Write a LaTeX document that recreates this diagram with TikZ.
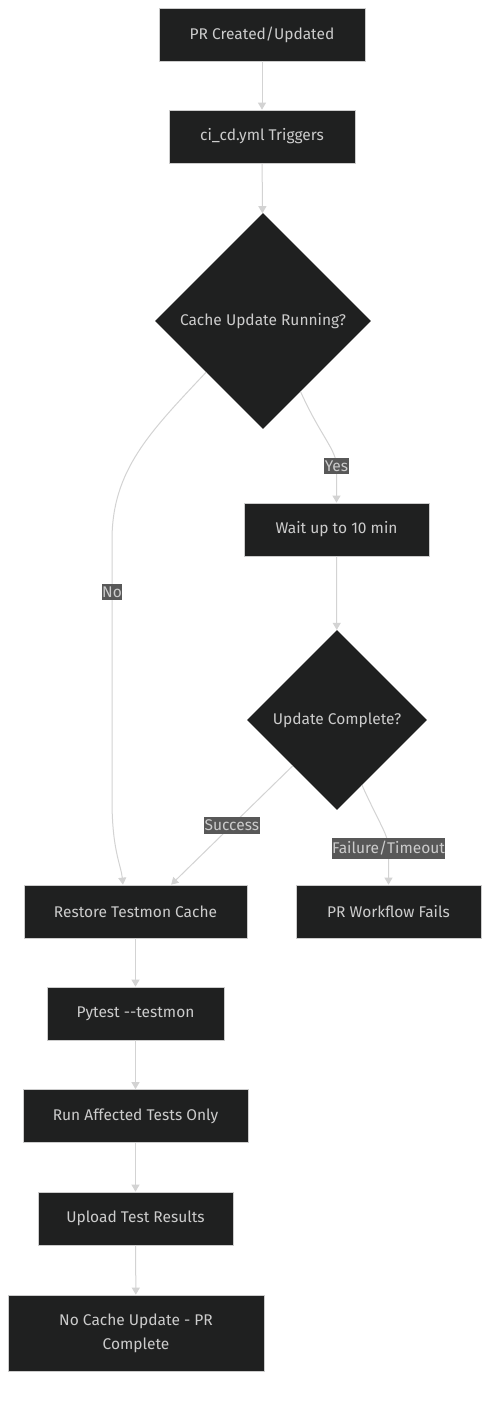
\documentclass[tikz,border=0pt]{standalone}
\usepackage{fontspec}
\setmainfont{Fira Sans}
\usetikzlibrary{shapes.geometric,arrows.meta}
\definecolor{nenkhung}{HTML}{1F2020}
\definecolor{vienkhung}{HTML}{CCCCCC}
\definecolor{chukhung}{HTML}{CCCCCC}
\definecolor{duongnoi}{HTML}{D3D3D3}
\definecolor{nennhan}{HTML}{585858}
\tikzset{every picture/.style={line width=0.75pt}}
\tikzset{
	khung/.style={draw=vienkhung,fill=nenkhung,text=chukhung,minimum height=53pt,inner sep=0pt,align=center,font=\fontsize{15.5}{24}\selectfont},
	thoi/.style={diamond,aspect=1,fill=nenkhung,text=chukhung,inner sep=0pt,font=\fontsize{15.5}{18}\selectfont},
	nhan/.style={fill=nennhan,text=chukhung,inner xsep=0.5pt,inner ysep=3pt,font=\fontsize{15.5}{18}\selectfont},
	muiten/.style={draw=duongnoi,line width=1pt,-{Triangle[length=7pt,width=8pt]}}
}
\begin{document}
\begin{tikzpicture}[x=1pt,y=-1pt]
	\useasboundingbox[fill=white] (0,0) rectangle (497,1401);
	%Khung dau
	\node[khung,minimum width=206pt] (pr) at (262,34.5) {PR Created/Updated};
	\node[khung,minimum width=186pt] (ci) at (262,136.5) {ci\_cd.yml Triggers};
	%Thoi 1
	\node[thoi,minimum size=216pt] (run) at (263,321) {Cache Update Running?};
	\node[khung,minimum width=185pt] (wait) at (336.5,529.5) {Wait up to 10 min};
	%Thoi 2
	\node[thoi,minimum size=180pt] (upd) at (337,720) {Update Complete?};
	%Khung ket qua
	\node[khung,minimum width=223pt] (restore) at (135.5,911.5) {Restore Testmon Cache};
	\node[khung,minimum width=185pt] (fail) at (388.5,911.5) {PR Workflow Fails};
	\node[khung,minimum width=177pt] (pytest) at (135.5,1013.5) {Pytest {-}{-}testmon};
	\node[khung,minimum width=225pt] (affected) at (135.5,1116) {Run Affected Tests Only};
	\node[khung,minimum width=195pt] (upload) at (135.5,1218.5) {Upload Test Results};
	\node[khung,minimum width=256pt,minimum height=76pt] (done) at (136,1333) {No Cache Update - PR\\Complete};
	%Mui ten thang
	\draw[muiten] (pr) -- (ci);
	\draw[muiten] (ci) -- (run);
	\draw[muiten] (wait) -- (upd);
	\draw[muiten] (restore) -- (pytest);
	\draw[muiten] (pytest) -- (affected);
	\draw[muiten] (affected) -- (upload);
	\draw[muiten] (upload) -- (done);
	%Mui ten co nhan
	\draw[muiten] (run.-62) .. controls (320,435) and (336.5,450) .. (336.5,466) node[nhan] (yes) {Yes} -- (wait.north);
	\draw[muiten] (run.-138) .. controls (150,432) and (112,470) .. (112,540) -- (112,592) node[nhan] (no) {No} -- (112,800) .. controls (112,850) and (121,865) .. (restore.115);
	\draw[muiten] (upd.-134) -- (restore.37) node[nhan,pos=0.5] (ok) {Success};
	\draw[muiten] (upd.-69) .. controls (380,825) and (388.5,835) .. (388.5,848.5) node[nhan] (timeout) {Failure/Timeout} -- (fail.north);
\end{tikzpicture}
\end{document}
